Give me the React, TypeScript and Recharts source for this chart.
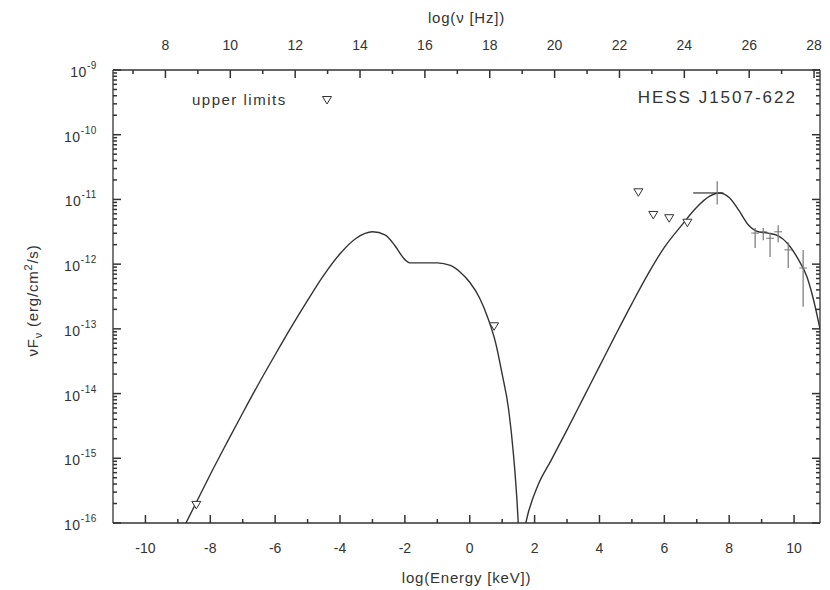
import {
  ComposedChart,
  Line,
  Scatter,
  XAxis,
  YAxis,
  ErrorBar,
  Legend,
} from 'recharts';

// log10(E / keV) on x, log10(nuF_nu / erg cm^-2 s^-1) on y
const syncE = [-9.0, -8.5, -8.0, -7.5, -7.0, -6.5, -6.0, -5.5, -5.0, -4.5, -4.0, -3.5, -3.0, -2.6, -2.3, -2.0, -1.85, -1.5, -1.0, -0.6, -0.3, 0.0, 0.3, 0.55, 0.8, 1.0, 1.2, 1.35, 1.45, 1.53];
const syncF = [-16.25, -15.75, -15.25, -14.77, -14.3, -13.84, -13.4, -12.97, -12.56, -12.17, -11.84, -11.6, -11.5, -11.55, -11.72, -11.93, -11.98, -11.98, -11.98, -12.02, -12.12, -12.28, -12.52, -12.82, -13.22, -13.7, -14.25, -14.95, -15.6, -16.3];

const icE = [1.6, 1.8, 2.1, 2.5, 3.0, 3.5, 4.0, 4.5, 5.0, 5.5, 6.0, 6.5, 7.0, 7.4, 7.7, 8.0, 8.3, 8.6, 8.9, 9.2, 9.5, 9.8, 10.1, 10.4, 10.6, 10.8];
const icF = [-16.3, -15.85, -15.42, -15.04, -14.56, -14.07, -13.58, -13.09, -12.61, -12.15, -11.74, -11.42, -11.12, -10.95, -10.9, -10.97, -11.17, -11.4, -11.5, -11.52, -11.56, -11.68, -11.9, -12.2, -12.55, -13.0];

// upper limits
const ulE = [-8.43, 0.75, 5.2, 5.66, 6.15, 6.71];
const ulF = [-15.72, -12.96, -10.89, -11.24, -11.29, -11.36];

// Fermi-LAT bin
const latE = [7.63];
const latF = [-10.9];
const latErrX = [[0.74, 0.19]];
const latErrY = [[0.18, 0.18]];

// HESS spectrum
const hessE = [8.8, 9.05, 9.26, 9.51, 9.82, 10.28];
const hessF = [-11.52, -11.5, -11.6, -11.5, -11.78, -12.06];
const hessErrLow = [0.23, 0.13, 0.29, 0.16, 0.28, 0.6];
const hessErrHigh = [0.08, 0.06, 0.08, 0.1, 0.12, 0.28];
const hessHalfBin = 0.12;

const E_MIN = -11;
const E_MAX = 10.8;
const NU_OFFSET = 17.383; // log10(Hz per keV)

const energyTicks = Array.from({ length: 21 }, (_, i) => i - 10);
const nuTicks = Array.from({ length: 22 }, (_, i) => i + 7);
const decades = [-16, -15, -14, -13, -12, -11, -10, -9];

const fluxTicks: number[] = [];
decades.forEach((d) => {
  fluxTicks.push(d);
  if (d < -9) for (let k = 2; k <= 9; k++) fluxTicks.push(d + Math.log10(k));
});

const syncData = syncE.map((e, i) => ({ e, nu: e + NU_OFFSET, f: syncF[i] }));
const icData = icE.map((e, i) => ({ e, f: icF[i] }));
const ulData = ulE.map((e, i) => ({ e, f: ulF[i] }));
const latData = latE.map((e, i) => ({ e, f: latF[i], ex: latErrX[i], ey: latErrY[i] }));
const hessData = hessE.map((e, i) => ({
  e,
  f: hessF[i],
  ex: [hessHalfBin, hessHalfBin],
  ey: [hessErrLow[i], hessErrHigh[i]],
}));

const INK = '#333';
const FONT = '"Liberation Sans", Arial, sans-serif';

const isMajor = (v: number) => Math.abs(v - Math.round(v)) < 1e-6;

// ticks point inwards, like gnuplot
const BottomTick = ({ x, y, payload }: any) => {
  const v = payload.value;
  const major = v % 2 === 0;
  return (
    <g>
      <path d={`M${x},${y}V${y - (major ? 8 : 4)}`} stroke={INK} strokeWidth={1.5} fill="none" />
      {major && (
        <text x={x} y={y + 30} textAnchor="middle" fontSize={14} fill={INK} fontFamily={FONT}>
          {v}
        </text>
      )}
    </g>
  );
};

const TopTick = ({ x, y, payload }: any) => {
  const v = payload.value;
  const major = v % 2 === 0;
  return (
    <g>
      <path d={`M${x},${y}V${y + (major ? 8 : 4)}`} stroke={INK} strokeWidth={1.5} fill="none" />
      {major && (
        <text x={x} y={y - 20} textAnchor="middle" fontSize={14} fill={INK} fontFamily={FONT}>
          {v}
        </text>
      )}
    </g>
  );
};

const LeftTick = ({ x, y, payload }: any) => {
  const v = payload.value;
  const major = isMajor(v);
  return (
    <g>
      <path d={`M${x},${y}H${x + (major ? 8 : 4)}`} stroke={INK} strokeWidth={1.5} fill="none" />
      {major && (
        <text x={x - 16} y={y + 7} textAnchor="end" fontSize={14} fill={INK} fontFamily={FONT} letterSpacing={0.6}>
          10
          <tspan dy={-8} fontSize={10}>
            {Math.round(v)}
          </tspan>
        </text>
      )}
    </g>
  );
};

const RightTick = ({ x, y, payload }: any) => {
  const major = isMajor(payload.value);
  return <path d={`M${x},${y}H${x - (major ? 8 : 4)}`} stroke={INK} strokeWidth={1.5} fill="none" />;
};

const DownTriangle = ({ cx, cy }: any) => (
  <path
    d={`M${cx - 4.5},${cy - 3.5} L${cx + 4.5},${cy - 3.5} L${cx},${cy + 4} Z`}
    fill="#fff"
    stroke={INK}
    strokeWidth={1}
  />
);

const NoMark = () => <g />;

const LegendBox = () => (
  <div style={{ display: 'flex', alignItems: 'center', fontFamily: FONT, fontSize: 15, color: INK, letterSpacing: 1.5 }}>
    <span>upper limits</span>
    <svg width={12} height={10} style={{ marginLeft: 34 }}>
      <path d="M1.5,1.5 L10.5,1.5 L6,9 Z" fill="#fff" stroke={INK} />
    </svg>
  </div>
);

export default function App() {
  return (
    <div style={{ position: 'absolute', left: 0, top: 0, width: 830, height: 590, background: '#fff' }}>
      <ComposedChart width={830} height={590} margin={{ top: 0, right: 0, bottom: 0, left: 0 }}>
        <XAxis
          xAxisId="bottom"
          dataKey="e"
          type="number"
          domain={[E_MIN, E_MAX]}
          ticks={energyTicks}
          interval={0}
          tickSize={0}
          tickMargin={0}
          tick={BottomTick}
          height={67}
          allowDataOverflow
          axisLine={{ stroke: INK, strokeWidth: 1.3 }}
          label={{
            content: ({ viewBox }: any) => (
              <text
                x={viewBox.x + viewBox.width / 2}
                y={viewBox.y + 60}
                textAnchor="middle"
                fontSize={15}
                fill={INK}
                fontFamily={FONT}
                letterSpacing={0.8}
              >
                log(Energy [keV])
              </text>
            ),
          }}
        />
        <XAxis
          xAxisId="top"
          orientation="top"
          dataKey="nu"
          type="number"
          domain={[E_MIN + NU_OFFSET, E_MAX + NU_OFFSET]}
          ticks={nuTicks}
          interval={0}
          tickSize={0}
          tickMargin={0}
          tick={TopTick}
          height={70}
          allowDataOverflow
          axisLine={{ stroke: INK, strokeWidth: 1.3 }}
          label={{
            content: ({ viewBox }: any) => (
              <text
                x={viewBox.x + viewBox.width / 2}
                y={viewBox.y + 23}
                textAnchor="middle"
                fontSize={15}
                fill={INK}
                fontFamily={FONT}
                letterSpacing={0.8}
              >
                log(ν [Hz])
              </text>
            ),
          }}
        />
        <YAxis
          yAxisId="left"
          dataKey="f"
          type="number"
          domain={[-16, -9]}
          ticks={fluxTicks}
          interval={0}
          tickSize={0}
          tickMargin={0}
          tick={LeftTick}
          width={113}
          allowDataOverflow
          axisLine={{ stroke: INK, strokeWidth: 1.3 }}
          label={{
            content: ({ viewBox }: any) => {
              const cx = 38;
              const cy = viewBox.y + viewBox.height / 2 + 4;
              return (
                <text
                  x={cx}
                  y={cy}
                  transform={`rotate(-90 ${cx} ${cy})`}
                  textAnchor="middle"
                  fontSize={15}
                  fill={INK}
                  fontFamily={FONT}
                  letterSpacing={0.8}
                >
                  νF
                  <tspan dy={4} fontSize={11}>ν</tspan>
                  <tspan dy={-4}> (erg/cm</tspan>
                  <tspan dy={-6} fontSize={11}>2</tspan>
                  <tspan dy={6}>/s)</tspan>
                </text>
              );
            },
          }}
        />
        <YAxis
          yAxisId="right"
          orientation="right"
          dataKey="f"
          type="number"
          domain={[-16, -9]}
          ticks={fluxTicks}
          interval={0}
          tickSize={0}
          tickMargin={0}
          tick={RightTick}
          width={10}
          allowDataOverflow
          axisLine={{ stroke: INK, strokeWidth: 1.3 }}
        />
        <Legend
          layout="horizontal"
          verticalAlign="middle"
          align="center"
          content={LegendBox}
          wrapperStyle={{ position: 'absolute', top: 91, left: 192, width: 180 }}
        />
        {/* invisible copy that ties the frequency axis and the right frame axis to the data */}
        <Line
          xAxisId="top"
          yAxisId="right"
          data={syncData}
          dataKey="f"
          stroke="none"
          dot={false}
          activeDot={false}
          isAnimationActive={false}
          legendType="none"
        />
        <Line
          xAxisId="bottom"
          yAxisId="left"
          data={syncData}
          dataKey="f"
          type="monotone"
          stroke={INK}
          strokeWidth={1.4}
          dot={false}
          isAnimationActive={false}
          legendType="none"
        />
        <Line
          xAxisId="bottom"
          yAxisId="left"
          data={icData}
          dataKey="f"
          type="monotone"
          stroke={INK}
          strokeWidth={1.4}
          dot={false}
          isAnimationActive={false}
          legendType="none"
        />
        <Scatter
          xAxisId="bottom"
          yAxisId="left"
          data={latData}
          dataKey="f"
          shape={NoMark}
          isAnimationActive={false}
          legendType="none"
        >
          <ErrorBar dataKey="ex" direction="x" width={0} stroke={INK} strokeWidth={1.2} />
          <ErrorBar dataKey="ey" direction="y" width={0} stroke="#777" strokeWidth={1.2} />
        </Scatter>
        <Scatter
          xAxisId="bottom"
          yAxisId="left"
          data={hessData}
          dataKey="f"
          shape={NoMark}
          isAnimationActive={false}
          legendType="none"
        >
          <ErrorBar dataKey="ex" direction="x" width={0} stroke="#777" strokeWidth={1} />
          <ErrorBar dataKey="ey" direction="y" width={0} stroke="#777" strokeWidth={1.2} />
        </Scatter>
        <Scatter
          xAxisId="bottom"
          yAxisId="left"
          data={ulData}
          dataKey="f"
          shape={DownTriangle}
          isAnimationActive={false}
          name="upper limits"
        />
      </ComposedChart>
      <div
        style={{
          position: 'absolute',
          right: 33,
          top: 88,
          fontFamily: FONT,
          fontSize: 17,
          letterSpacing: 2,
          color: INK,
        }}
      >
        HESS J1507-622
      </div>
    </div>
  );
}
